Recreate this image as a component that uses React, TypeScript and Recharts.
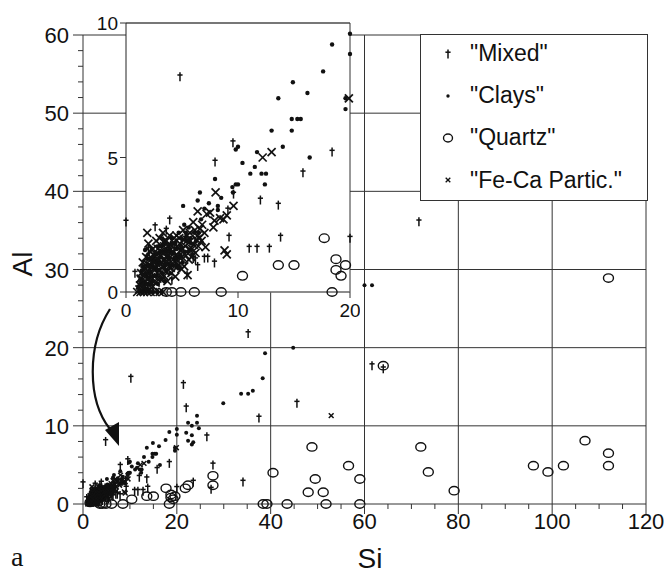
import React from "react";
import { ScatterChart, Scatter, XAxis, YAxis, ReferenceLine, CartesianGrid } from "recharts";

// legend names, in drawing order
const categories = ['"Mixed"', '"Clays"', '"Quartz"', '"Fe-Ca Partic."'];

// [Si, Al] (inset used for Si<=20, Al<=10)
const mixedPts: [number, number][] = [
  [0, 2.6], [0.8, 0.7], [1.3, 0.4], [1.5, 0.9], [1.9, 1.3], [2.0, 1.6], [2.2, 0.9], [2.4, 0.5],
  [2.6, 2.43], [2.8, 0.8], [3.0, 1.2], [3.3, 1.9], [3.5, 1.0], [3.6, 2.3], [3.9, 2.68], [3.9, 1.4],
  [4.1, 0.45], [4.3, 1.6], [4.4, 1.2], [4.8, 0.9], [4.82, 8.0], [5.0, 1.6], [5.3, 2.0], [5.8, 1.5],
  [5.45, 0.63], [6.0, 1.25], [6.2, 1.2], [6.4, 0.95], [7.0, 1.26], [7.3, 1.26], [7.9, 1.08],
  [7.95, 4.83], [9.1, 3.05], [9.2, 2.04], [9.6, 3.64], [9.55, 5.55], [11.0, 1.63], [11.7, 1.63],
  [12.0, 3.42], [12.8, 1.63], [13.6, 3.23], [13.8, 2.04], [15.8, 4.43], [18.4, 5.2], [20.0, 2.0],
  [10.2, 16.1], [21.4, 15.3], [22.0, 12.3], [26.4, 8.6], [23.5, 2.8], [27.7, 5.0], [27.3, 1.9],
  [34.1, 2.8], [35.2, 21.8], [37.5, 11.0], [45.6, 12.9], [61.6, 17.7], [64.0, 17.3], [71.6, 36.1],
];

const claysPts: [number, number][] = [
  [1.2, 0], [1.5, 0], [1.8, 0], [2.1, 0], [2.4, 0], [2.8, 0], [3.2, 0],
  [1.1, 0.2], [1.3, 0.5], [1.4, 0.8], [1.6, 0.3], [1.7, 1.56], [1.8, 0.6], [1.9, 1.0], [2.0, 0.1],
  [2.1, 0.7], [2.2, 1.2], [2.3, 1.6], [2.4, 0.4], [2.5, 0.9], [2.6, 1.4], [2.7, 0.6], [2.8, 1.1],
  [2.9, 1.7], [3.0, 0.8], [3.1, 1.3], [3.2, 0.5], [3.3, 1.5], [3.4, 1.0], [3.5, 1.8], [3.6, 0.8],
  [3.7, 1.3], [3.8, 1.7], [3.9, 1.0], [4.0, 1.5], [4.1, 2.0], [4.3, 1.2], [4.4, 1.8], [4.6, 1.3],
  [4.7, 2.2], [4.9, 1.6], [5.1, 3.2], [5.2, 2.5], [5.4, 1.9], [5.6, 2.4], [5.8, 1.8], [6.1, 2.2],
  [1.25, 0.05], [1.35, 0.35], [1.45, 0.65], [1.55, 0.95], [1.65, 0.1], [1.75, 0.7], [1.85, 0.3],
  [1.95, 1.25], [2.05, 0.5], [2.15, 0.9], [2.25, 0.3], [2.35, 1.0], [2.45, 1.3], [2.55, 0.6],
  [2.65, 1.15], [2.75, 0.85], [2.85, 0.3], [2.95, 1.45], [3.05, 1.05], [3.15, 1.7], [3.25, 0.7],
  [3.35, 1.2], [3.45, 0.4], [3.55, 1.5], [3.65, 1.05], [3.75, 1.55], [3.85, 1.2], [3.95, 0.7],
  [4.05, 1.8], [4.15, 1.0], [4.25, 1.45], [4.45, 1.0], [4.55, 1.6], [4.65, 0.9], [4.85, 1.4],
  [4.95, 2.0], [5.05, 1.1], [5.25, 1.5], [5.35, 2.2], [5.55, 1.5], [5.75, 2.0], [5.95, 1.4],
  [6.25, 1.9], [6.5, 2.2],
  [6.4, 3.4], [6.6, 3.7], [6.7, 2.7], [7.0, 3.1], [7.4, 3.3], [7.95, 4.2], [8.2, 3.2], [8.2, 3.05],
  [8.5, 3.5], [9.5, 3.9], [9.8, 4.0], [9.55, 3.7], [9.8, 5.3], [10.0, 5.4], [10.0, 4.0], [10.4, 4.8],
  [11.1, 4.4], [11.5, 4.65], [11.7, 5.2], [12.1, 4.4], [12.5, 4.4], [12.4, 4.0], [13.0, 6.0],
  [13.6, 7.2], [14.0, 5.4], [14.8, 6.0], [14.8, 6.43], [15.3, 6.43], [15.6, 6.43], [14.9, 7.8],
  [16.2, 7.4], [16.4, 5.0], [17.6, 8.2], [18.4, 9.2], [19.6, 6.8], [19.6, 7.2], [20.0, 8.85], [20.0, 9.6],
  [22.0, 9.1], [22.4, 8.1], [22.4, 10.4], [23.2, 7.6], [23.2, 8.8], [23.2, 10.0], [23.5, 7.9],
  [24.3, 10.4], [24.3, 11.3], [24.7, 9.7], [29.9, 12.9], [33.7, 14.1], [35.2, 14.1], [36.2, 14.5],
  [38.3, 16.1], [38.8, 19.3], [44.8, 20.0], [60.0, 28.0], [61.6, 28.0],
];

const quartzPts: [number, number][] = [
  [1.5, 0.2], [3.6, 0], [4.1, 0], [4.9, 0], [6.1, 0], [8.5, 0], [10.4, 0.6], [13.6, 1.0], [15.0, 1.0],
  [17.7, 2.0], [18.4, 0], [18.75, 1.22], [18.75, 0.82], [19.2, 0.6], [19.6, 1.0],
  [21.8, 2.0], [22.4, 2.4], [27.7, 3.6], [27.7, 2.4], [38.4, 0], [39.2, 0], [40.5, 4.0], [43.5, 0],
  [48.0, 1.5], [48.8, 7.3], [49.5, 3.2], [51.2, 1.5], [51.8, 0], [56.6, 4.9], [59.0, 3.2], [59.0, 0],
  [64.0, 17.7], [72.0, 7.3], [73.6, 4.1], [79.1, 1.7], [96.0, 4.9], [99.1, 4.1], [102.4, 4.9],
  [107.0, 8.1], [112.0, 6.5], [112.0, 4.9], [112.0, 28.9],
];

const fecaPts: [number, number][] = [
  [1.0, 0], [1.3, 0], [1.6, 0], [1.9, 0], [2.2, 0], [2.6, 0], [3.0, 0], [3.3, 0],
  [1.2, 0.1], [1.3, 0.5], [1.4, 0.3], [1.5, 1.1], [1.6, 0.6], [1.7, 0.2], [1.7, 0.9], [1.8, 1.3],
  [1.9, 2.2], [1.9, 0.5], [2.0, 1.8], [2.1, 0.4], [2.1, 1.0], [2.2, 1.3], [2.3, 0.7], [2.4, 1.6],
  [2.4, 0.2], [2.5, 1.1], [2.6, 0.9], [2.7, 1.9], [2.7, 1.4], [2.8, 0.5], [2.9, 1.2], [3.0, 2.0],
  [3.0, 0.8], [3.1, 1.5], [3.2, 1.1], [3.3, 2.2], [3.4, 0.6], [3.4, 1.7], [3.5, 1.2], [3.6, 1.9],
  [3.7, 0.4], [3.7, 1.0], [3.8, 1.5], [3.9, 2.1], [4.0, 0.9], [4.1, 1.7], [4.2, 1.2], [4.3, 2.0],
  [4.4, 0.57], [4.5, 2.1], [4.5, 1.4], [4.7, 1.0], [4.8, 1.8], [5.0, 1.3], [5.1, 2.3], [5.2, 0.95],
  [5.3, 1.7], [5.5, 0.63], [5.5, 1.93], [5.6, 1.2], [5.7, 2.2], [5.9, 1.6], [6.0, 2.6], [6.2, 1.45],
  [1.25, 0.25], [1.35, 0.7], [1.45, 0.45], [1.55, 0.15], [1.65, 0.8], [1.75, 0.4], [1.85, 1.05],
  [1.95, 0.75], [2.05, 0.25], [2.15, 1.5], [2.25, 0.55], [2.35, 1.15], [2.45, 0.85], [2.55, 1.35],
  [2.65, 0.35], [2.75, 1.05], [2.85, 1.6], [2.95, 0.65], [3.05, 1.35], [3.15, 0.45], [3.25, 0.95],
  [3.35, 1.45], [3.45, 1.9], [3.55, 0.75], [3.65, 1.35], [3.75, 1.7], [3.85, 0.95], [3.95, 1.3],
  [4.05, 0.7], [4.15, 1.5], [4.25, 1.85], [4.35, 0.95], [4.55, 1.2], [4.65, 1.65], [4.75, 2.0],
  [4.85, 1.25], [4.95, 0.85], [5.05, 1.6], [5.15, 1.95], [5.35, 1.35], [5.45, 2.1], [5.65, 1.6],
  [5.75, 1.9], [5.85, 1.3], [6.05, 1.75], [6.15, 2.3], [6.45, 1.7], [6.55, 2.0], [6.75, 1.9], [7.0, 2.2],
  [6.3, 1.95], [6.4, 3.0], [6.4, 2.1], [6.6, 2.35], [6.8, 2.5], [7.1, 1.67], [7.2, 2.9], [7.5, 2.95],
  [7.8, 2.4], [7.9, 2.65], [8.0, 3.7], [8.4, 2.75], [8.7, 2.7], [8.8, 1.55], [9.0, 1.4], [9.0, 2.85],
  [9.6, 3.2], [12.2, 5.0], [13.0, 5.2], [19.9, 7.2], [52.9, 11.3],
];

const mainXTicks = [0, 5, 10, 15, 20, 25, 30, 35, 40, 45, 50, 55, 60, 65, 70, 75, 80, 85, 90, 95, 100, 105, 110, 115, 120];
const mainYTicks = [0, 2, 4, 6, 8, 10, 12, 14, 16, 18, 20, 22, 24, 26, 28, 30, 32, 34, 36, 38, 40, 42, 44, 46, 48, 50, 52, 54, 56, 58, 60];
const mainGridX = [20, 40, 60, 80, 100, 120];
const mainGridY = [10, 20, 30, 40, 50, 60];
const insetXTicks = [0, 10, 20];
const insetYTicks = [0, 5, 10];

const FONT = "'Liberation Sans', Arial, Helvetica, sans-serif";
const INK = "#111";

const rows = (pts: [number, number][]) => pts.map(([si, al]) => ({ si, al }));
const insetRows = (pts: [number, number][]) => rows(pts.filter(([si, al]) => si <= 20.3 && al <= 10.3));

const Dagger = ({ cx, cy }: any) => (
  <g stroke={INK} strokeWidth={1.5}>
    <line x1={cx} y1={cy - 4.5} x2={cx} y2={cy + 4.5} />
    <line x1={cx - 2.6} y1={cy - 1.8} x2={cx + 2.6} y2={cy - 1.8} />
  </g>
);
const Dot = ({ cx, cy, r = 1.8 }: any) => <circle cx={cx} cy={cy} r={r} fill={INK} />;
const Ring = ({ cx, cy, rx = 5, ry = 4.2 }: any) => (
  <ellipse cx={cx} cy={cy} rx={rx} ry={ry} fill="none" stroke={INK} strokeWidth={1.4} />
);
const Cross = ({ cx, cy, s = 2.3, w = 1.3 }: any) => (
  <g stroke={INK} strokeWidth={w}>
    <line x1={cx - s} y1={cy - s} x2={cx + s} y2={cy + s} />
    <line x1={cx - s} y1={cy + s} x2={cx + s} y2={cy - s} />
  </g>
);

const MainXTick = ({ x, y, payload }: any) => {
  const major = payload.value % 20 === 0;
  return (
    <g>
      <line x1={x} y1={y} x2={x} y2={y + (major ? 10 : 5)} stroke="#333" />
      {major && (
        <text x={x} y={y + 25} textAnchor="middle" fontSize={22} fontFamily={FONT} fill={INK}>
          {payload.value}
        </text>
      )}
    </g>
  );
};

const MainYTick = ({ x, y, payload }: any) => {
  const major = payload.value % 10 === 0;
  return (
    <g>
      <line x1={x - (major ? 10 : 5)} y1={y} x2={x} y2={y} stroke="#333" />
      {major && (
        <text x={x - 14} y={y + 8} textAnchor="end" fontSize={22} fontFamily={FONT} fill={INK}>
          {payload.value}
        </text>
      )}
    </g>
  );
};

const InsetXTick = ({ x, y, payload }: any) => (
  <g>
    <line x1={x} y1={y} x2={x} y2={y + 6} stroke="#333" />
    <text x={x} y={y + 25} textAnchor="middle" fontSize={19} fontFamily={FONT} fill={INK}>
      {payload.value}
    </text>
  </g>
);

const InsetYTick = ({ x, y, payload }: any) => (
  <g>
    <line x1={x - 6} y1={y} x2={x} y2={y} stroke="#333" />
    <text x={x - 8} y={y + 7} textAnchor="end" fontSize={19} fontFamily={FONT} fill={INK}>
      {payload.value}
    </text>
  </g>
);

const legendSymbol = (i: number) => {
  const cx = 27;
  const cy = 15;
  if (i === 0) return <Dagger cx={cx} cy={cy} />;
  if (i === 1) return <Dot cx={cx} cy={cy} r={1.7} />;
  if (i === 2) return <Ring cx={cx} cy={cy} rx={4.5} ry={4} />;
  return <Cross cx={cx} cy={cy} s={2.3} />;
};

export default function App() {
  return (
    <div style={{ position: "absolute", left: 0, top: 0, width: 666, height: 575, background: "#fff", fontFamily: FONT }}>
      <div style={{ position: "absolute", left: 0, top: 0 }}>
        <ScatterChart width={666} height={575} margin={{ top: 35, right: 20, bottom: 31, left: 23 }}>
          <XAxis
            type="number"
            dataKey="si"
            domain={[0, 120]}
            ticks={mainXTicks}
            interval={0}
            height={40}
            tickSize={0}
            tickMargin={0}
            tickLine={false}
            tick={MainXTick}
            axisLine={{ stroke: "#333" }}
          />
          <YAxis
            type="number"
            dataKey="al"
            domain={[0, 60]}
            ticks={mainYTicks}
            interval={0}
            width={60}
            tickSize={0}
            tickMargin={0}
            tickLine={false}
            tick={MainYTick}
            axisLine={{ stroke: "#333" }}
          />
          {mainGridX.map((v) => (
            <ReferenceLine key={"gx" + v} x={v} stroke="#333" strokeWidth={1} />
          ))}
          {mainGridY.map((v) => (
            <ReferenceLine key={"gy" + v} y={v} stroke="#333" strokeWidth={1} />
          ))}
          <Scatter name={categories[0]} data={rows(mixedPts)} shape={(p: any) => <Dagger cx={p.cx} cy={p.cy} />} isAnimationActive={false} />
          <Scatter name={categories[1]} data={rows(claysPts)} shape={(p: any) => <Dot cx={p.cx} cy={p.cy} r={2} />} isAnimationActive={false} />
          <Scatter name={categories[2]} data={rows(quartzPts)} shape={(p: any) => <Ring cx={p.cx} cy={p.cy} rx={5} ry={4.2} />} isAnimationActive={false} />
          <Scatter name={categories[3]} data={rows(fecaPts)} shape={(p: any) => <Cross cx={p.cx} cy={p.cy} s={2.4} w={1.5} />} isAnimationActive={false} />
        </ScatterChart>
      </div>

      <div style={{ position: "absolute", left: 0, top: 0 }}>
        <ScatterChart width={360} height={330} margin={{ top: 23, right: 10, bottom: 8, left: 86 }}>
          <CartesianGrid horizontal={false} vertical={false} fill="#fff" fillOpacity={1} />
          <XAxis
            type="number"
            dataKey="si"
            domain={[0, 20]}
            ticks={insetXTicks}
            interval={0}
            height={30}
            tickSize={0}
            tickMargin={0}
            tickLine={false}
            tick={InsetXTick}
            axisLine={{ stroke: "#666", strokeWidth: 1.5 }}
          />
          <YAxis
            type="number"
            dataKey="al"
            domain={[0, 10]}
            ticks={insetYTicks}
            interval={0}
            width={40}
            tickSize={0}
            tickMargin={0}
            tickLine={false}
            tick={InsetYTick}
            axisLine={{ stroke: "#222" }}
          />
          <ReferenceLine y={10} stroke="#777" strokeWidth={2} />
          <ReferenceLine x={20} stroke="#333" strokeWidth={1} />
          <Scatter data={insetRows(mixedPts)} shape={(p: any) => <Dagger cx={p.cx} cy={p.cy} />} isAnimationActive={false} />
          <Scatter data={insetRows(claysPts)} shape={(p: any) => <Dot cx={p.cx} cy={p.cy} r={2.2} />} isAnimationActive={false} />
          <Scatter data={insetRows(quartzPts)} shape={(p: any) => <Ring cx={p.cx} cy={p.cy} rx={5} ry={4.3} />} isAnimationActive={false} />
          <Scatter data={insetRows(fecaPts)} shape={(p: any) => <Cross cx={p.cx} cy={p.cy} s={4} w={1.7} />} isAnimationActive={false} />
        </ScatterChart>
      </div>

      <div
        style={{
          position: "absolute",
          left: 420,
          top: 34,
          width: 226,
          height: 165,
          border: "1px solid #333",
          background: "#fff",
        }}
      >
        {categories.map((name, i) => (
          <div
            key={name}
            style={{ position: "absolute", left: 0, top: 3.5 + i * 42.2, height: 30, display: "flex", alignItems: "center" }}
          >
            <svg width={49} height={30} style={{ display: "block" }}>
              {legendSymbol(i)}
            </svg>
            <span style={{ fontSize: 23, color: INK, whiteSpace: "nowrap" }}>{name}</span>
          </div>
        ))}
      </div>

      <svg width={666} height={575} style={{ position: "absolute", left: 0, top: 0, pointerEvents: "none" }}>
        <path d="M110,309 C87,345 87,400 110,429" fill="none" stroke={INK} strokeWidth={2.2} />
        <polygon points="119,446 105,430 119,422" fill={INK} />
        <text transform="translate(32,264) rotate(-90)" textAnchor="middle" fontSize={28} fontFamily={FONT} fill={INK}>
          Al
        </text>
        <text x={370} y={568} textAnchor="middle" fontSize={28} fontFamily={FONT} fill={INK}>
          Si
        </text>
        <text x={11} y={566} fontSize={28} fontFamily="'Liberation Serif', 'Times New Roman', serif" fill={INK}>
          a
        </text>
      </svg>
    </div>
  );
}
